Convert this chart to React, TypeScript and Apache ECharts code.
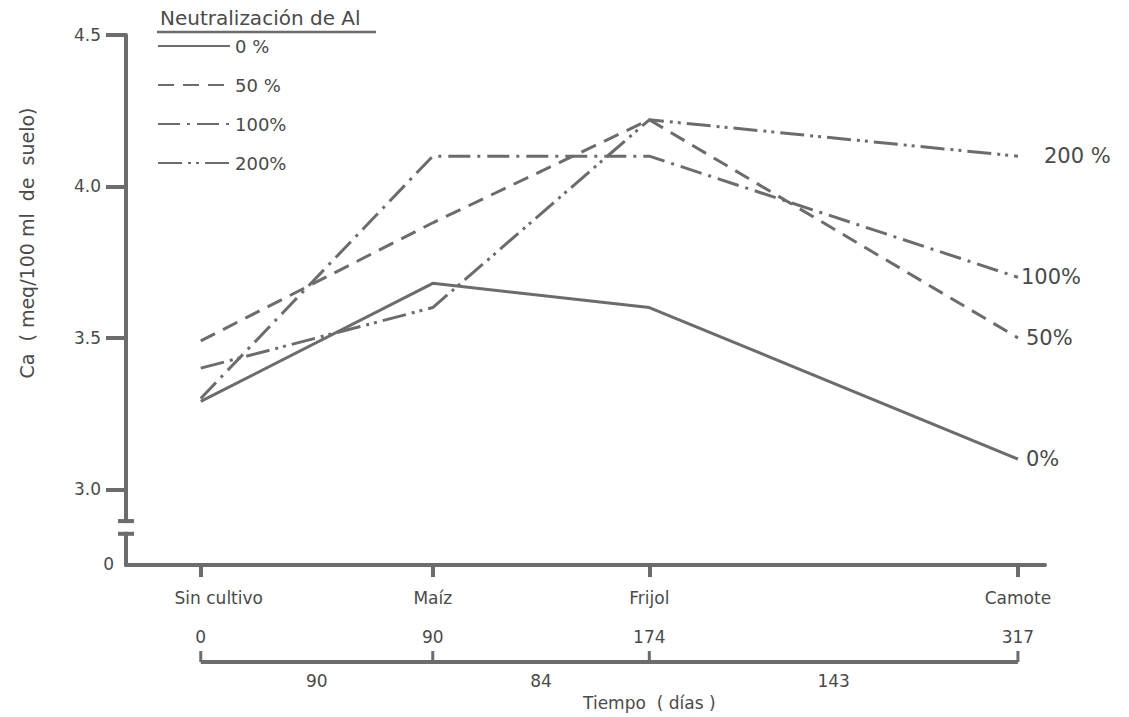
import React, { useEffect, useRef } from "react";
import * as echarts from "echarts";

// ---- data ----
const cropNames = ["Sin cultivo", "Maíz", "Frijol", "Camote"];
const cropDays = [0, 90, 174, 317];
const intervalDays = [90, 84, 143];
const seriesNames = ["0 %", "50 %", "100%", "200%"];
const endLabels = ["0%", "50%", "100%", "200 %"];
const ca0 = [3.29, 3.68, 3.6, 3.1];
const ca50 = [3.49, 3.88, 4.22, 3.5];
const ca100 = [3.3, 4.1, 4.1, 3.7];
const ca200 = [3.4, 3.6, 4.22, 4.1];
const yTicks = [3.0, 3.5, 4.0, 4.5];
const legendTitle = "Neutralización de Al";
const yTitle = "Ca  ( meq/100 ml  de  suelo)";
const xTitle = "Tiempo  ( días )";

// axis layout (broken y axis: bottom of axis is labelled 0)
const Y_MIN = 2.75;
const Y_MAX = 4.5;
const X_MIN = -29;
const X_MAX = 327.5;
const BREAK = [2.853, 2.895];

const LINE = "#6c6c6c";
const TEXT = "#4a4a4a";
const FONT = "'DejaVu Sans', sans-serif";
const dashes: (string | number[])[] = ["solid", [16, 9], [22, 7, 3, 7], [24, 6, 3, 5, 3, 6]];
const endDist = [8, 8, 3, 26];

export default function App() {
  const ref = useRef<HTMLDivElement>(null);
  useEffect(() => {
    document.body.style.margin = "0";
    if (!ref.current) return;
    const chart = echarts.init(ref.current, null, { renderer: "svg" });
    const allData = [ca0, ca50, ca100, ca200];
    chart.setOption({
      animation: false,
      backgroundColor: "#ffffff",
      grid: { left: 126, right: 84, top: 35, bottom: 152 },
      legend: {
        orient: "vertical",
        left: 152,
        top: 31,
        itemWidth: 72,
        itemHeight: 14,
        itemGap: 19,
        data: seriesNames,
        itemStyle: { opacity: 0 },
        textStyle: { color: TEXT, fontSize: 18, fontFamily: FONT, lineHeight: 20 },
      },
      xAxis: {
        type: "value",
        min: X_MIN,
        max: X_MAX,
        splitLine: { show: false },
        axisLine: { show: true, onZero: false, lineStyle: { color: LINE, width: 4 } },
        axisTick: { show: true, customValues: cropDays, length: 12, lineStyle: { color: LINE, width: 4 } },
        axisLabel: {
          customValues: cropDays,
          formatter: (v: number) => {
            const i = cropDays.indexOf(v);
            if (i < 0) return "";
            return i === 0 ? `{first|${cropNames[i]}}` : cropNames[i];
          },
          rich: { first: { padding: [0, 0, 0, 36], color: TEXT, fontSize: 17, fontFamily: FONT } },
          margin: 24,
          color: TEXT,
          fontSize: 17,
          fontFamily: FONT,
        },
      },
      yAxis: {
        type: "value",
        min: Y_MIN,
        max: Y_MAX,
        splitLine: { show: false },
        axisLine: { show: true, onZero: false, lineStyle: { color: LINE, width: 4 } },
        axisTick: { show: true, customValues: yTicks, length: 20, lineStyle: { color: LINE, width: 4 } },
        axisLabel: {
          customValues: yTicks,
          formatter: (v: number) => v.toFixed(1),
          margin: 25,
          color: TEXT,
          fontSize: 17,
          fontFamily: FONT,
        },
      },
      series: seriesNames.map((name, i) => ({
        name,
        type: "line",
        symbol: "none",
        data: cropDays.map((d, j) => [d, allData[i][j]]),
        lineStyle: { color: LINE, width: 3, type: dashes[i] },
        itemStyle: { color: LINE },
        endLabel: {
          show: true,
          formatter: endLabels[i],
          color: TEXT,
          fontSize: 21,
          fontFamily: FONT,
          distance: endDist[i],
        },
      })),
    });

    const px = (d: number, v: number) => chart.convertToPixel({ gridIndex: 0 }, [d, v]) as number[];
    const [ax, yBottom] = px(X_MIN, Y_MIN);
    const yb1 = px(X_MIN, BREAK[1])[1];
    const yb0 = px(X_MIN, BREAK[0])[1];
    const tY = yBottom + 97;
    const g: any[] = [];
    // legend title + underline
    g.push({
      type: "text",
      left: 160,
      top: 8,
      style: { text: legendTitle, fill: TEXT, fontSize: 20, fontFamily: FONT },
    });
    g.push({ type: "line", shape: { x1: 157, y1: 32, x2: 376, y2: 32 }, style: { stroke: LINE, lineWidth: 2.5 } });
    // y title
    g.push({
      type: "text",
      x: 27,
      y: 243,
      rotation: Math.PI / 2,
      style: { text: yTitle, fill: TEXT, fontSize: 19, fontFamily: FONT, align: "center", verticalAlign: "middle" },
    });
    // axis break
    g.push({ type: "rect", shape: { x: ax - 8, y: yb1 + 2, width: 16, height: yb0 - yb1 - 4 }, style: { fill: "#ffffff" }, z: 100 });
    g.push({ type: "line", shape: { x1: ax - 8, y1: yb1, x2: ax + 8, y2: yb1 }, style: { stroke: LINE, lineWidth: 4 }, z: 101 });
    g.push({ type: "line", shape: { x1: ax - 8, y1: yb0, x2: ax + 8, y2: yb0 }, style: { stroke: LINE, lineWidth: 4 }, z: 101 });
    g.push({
      type: "text",
      x: ax - 12,
      y: yBottom - 1,
      style: { text: "0", fill: TEXT, fontSize: 17, fontFamily: FONT, align: "right", verticalAlign: "middle" },
    });
    // time axis
    const tx = cropDays.map((d) => px(d, Y_MIN)[0]);
    g.push({
      type: "line",
      shape: { x1: tx[0], y1: tY, x2: tx[tx.length - 1], y2: tY },
      style: { stroke: LINE, lineWidth: 4 },
    });
    cropDays.forEach((d, i) => {
      g.push({ type: "line", shape: { x1: tx[i], y1: tY, x2: tx[i], y2: tY - 11 }, style: { stroke: LINE, lineWidth: 3 } });
      g.push({
        type: "text",
        x: tx[i],
        y: tY - 25,
        style: { text: String(d), fill: TEXT, fontSize: 17, fontFamily: FONT, align: "center", verticalAlign: "middle" },
      });
    });
    intervalDays.forEach((n, i) => {
      g.push({
        type: "text",
        x: (tx[i] + tx[i + 1]) / 2,
        y: tY + 19,
        style: { text: String(n), fill: TEXT, fontSize: 17, fontFamily: FONT, align: "center", verticalAlign: "middle" },
      });
    });
    g.push({
      type: "text",
      x: tx[2],
      y: tY + 41,
      style: { text: xTitle, fill: TEXT, fontSize: 17, fontFamily: FONT, align: "center", verticalAlign: "middle" },
    });
    chart.setOption({ graphic: g });

    return () => chart.dispose();
  }, []);
  return <div ref={ref} style={{ width: 1129, height: 717 }} />;
}
